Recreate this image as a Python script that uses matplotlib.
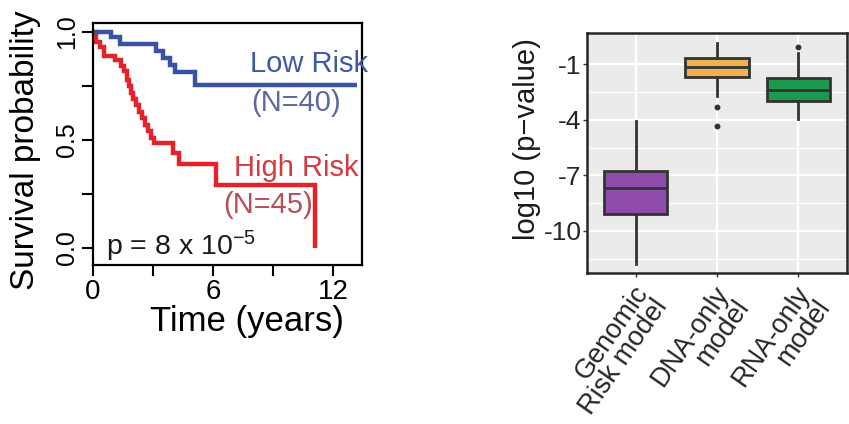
import matplotlib
matplotlib.use('Agg')
import matplotlib.pyplot as plt
import matplotlib.transforms as mtransforms

plt.rcParams['font.family'] = ['Liberation Sans', 'DejaVu Sans']
plt.rcParams['mathtext.default'] = 'regular'

# ---------------- data ----------------
low_t = [0, 0.92, 1.33, 3.17, 3.5, 3.83, 4.08, 5.08, 13.2]
low_s = [1.0, 0.978, 0.943, 0.912, 0.878, 0.847, 0.816, 0.755, 0.755]
high_t = [0, 0.15, 0.35, 0.55, 1.1, 1.4, 1.55, 1.7, 1.8, 1.9, 2.0, 2.15, 2.3,
          2.45, 2.6, 2.75, 2.9, 3.05, 4.0, 4.3, 6.15, 11.1, 11.1]
high_s = [1.0, 0.955, 0.93, 0.89, 0.87, 0.845, 0.82, 0.78, 0.75, 0.72, 0.69,
          0.66, 0.63, 0.60, 0.57, 0.54, 0.51, 0.485, 0.44, 0.39, 0.29, 0.29, 0.0]
x_ticks = [0, 3, 6, 9, 12]
x_ticklabels = ['0', '', '6', '', '12']
y_ticks = [0, 0.25, 0.5, 0.75, 1.0]
y_ticklabels = ['0.0', '', '0.5', '', '1.0']

models = ['Genomic\nRisk model', 'DNA-only\nmodel', 'RNA-only\nmodel']
whislo = [-11.8, -2.69, -3.96]
q1 = [-9.10, -1.66, -2.97]
med = [-7.66, -1.12, -2.38]
q3 = [-6.76, -0.66, -1.71]
whishi = [-4.05, 0.15, -0.39]
fliers = [[], [-3.28, -4.30], [-0.04]]
box_colors = ['#8E4BAC', '#F2B14F', '#1B9A4F']
p_ticks = [-1, -4, -7, -10]
p_minor = [-2.5, -5.5, -8.5, -11.5]

W, H = 849, 424
fig = plt.figure(figsize=(W / 100, H / 100), dpi=100)

# ---------------- left: KM curves ----------------
ax1 = fig.add_axes([93 / W, (H - 265) / H, (362 - 93) / W, (265 - 23) / H])
ax1.step(high_t, high_s, where='post', color='#E3222A', lw=3.2,
         solid_joinstyle='miter', solid_capstyle='butt')
ax1.step(low_t, low_s, where='post', color='#3953A4', lw=3.2,
         solid_joinstyle='miter', solid_capstyle='butt')
ax1.set_xlim(0, 13.45)
ax1.set_ylim(-0.079, 1.042)
ax1.set_xticks(x_ticks)
ax1.set_xticklabels(x_ticklabels, fontsize=20)
ax1.set_yticks(y_ticks)
ax1.set_yticklabels(y_ticklabels, fontsize=18, rotation=90, va='center')
ax1.tick_params(direction='out', length=8, width=1.5, pad=2)
for s in ax1.spines.values():
    s.set_linewidth(1.6)
ax1.set_xlabel('Time (years)', fontsize=25)
ax1.xaxis.set_label_coords((247 - 93) / 269, (265 - 305) / 242)
ax1.set_ylabel('Survival probability', fontsize=24)
ax1.yaxis.set_label_coords((41 - 93) / 269, (265 - 150) / 242)

ax1.text(13.75, 0.815, 'Low Risk', color='#3F58A8', fontsize=21,
         ha='right', va='baseline', clip_on=False)
ax1.text(10.15, 0.671, '(N=40)', color='#5A6A9E', fontsize=21,
         ha='center', va='center')
ax1.text(13.3, 0.335, 'High Risk', color='#D43A42', fontsize=21,
         ha='right', va='baseline', clip_on=False)
ax1.text(8.75, 0.199, '(N=45)', color='#B5505A', fontsize=21,
         ha='center', va='center')
ax1.text(0.65, -0.032, 'p = 8 x 10$^{-5}$', color='#1a1a1a', fontsize=20.5,
         ha='left', va='baseline')

# ---------------- right: boxplots ----------------
ax2 = fig.add_axes([587 / W, (H - 273) / H, (847 - 587) / W, (273 - 33) / H])
ax2.set_facecolor('#EBEBEB')
stats = []
for i in range(len(models)):
    stats.append(dict(med=med[i], q1=q1[i], q3=q3[i], whislo=whislo[i],
                      whishi=whishi[i], fliers=fliers[i], label=models[i]))
bp = ax2.bxp(stats, positions=[1, 2, 3], widths=0.78, patch_artist=True,
             showcaps=False,
             boxprops=dict(edgecolor='#333333', linewidth=2),
             medianprops=dict(color='#333333', linewidth=2),
             whiskerprops=dict(color='#333333', linewidth=2),
             flierprops=dict(marker='o', markersize=3.2,
                             markerfacecolor='#333333',
                             markeredgecolor='#333333'))
for patch, c in zip(bp['boxes'], box_colors):
    patch.set_facecolor(c)
ax2.set_xlim(0.4, 3.6)
ax2.set_ylim(-12.27, 0.70)
ax2.set_yticks(p_ticks)
ax2.set_yticklabels([str(v) for v in p_ticks], fontsize=19, color='#262626')
ax2.set_yticks(p_minor, minor=True)
ax2.set_xticks([1, 2, 3])
ax2.set_xticklabels(['', '', ''])
ax2.tick_params(axis='both', which='major', length=3, width=1,
                color='#333333', pad=1)
ax2.tick_params(axis='y', which='minor', length=0)
ax2.grid(True, which='major', color='white', linewidth=1.6)
ax2.grid(True, which='minor', axis='y', color='white', linewidth=0.8)
ax2.set_axisbelow(True)
for s in ax2.spines.values():
    s.set_linewidth(1.8)
    s.set_color('#262626')
ax2.set_ylabel('log10 (p\u2212value)', fontsize=21, color='#1a1a1a')
ax2.yaxis.set_label_coords((541 - 587) / 260, (273 - 139) / 240)

trans = mtransforms.blended_transform_factory(ax2.transData, ax2.transAxes)
for i, lab in enumerate(models):
    t = mtransforms.offset_copy(trans, fig=fig, x=17, y=-22, units='dots')
    ax2.text(i + 1, 0, lab, transform=t, rotation=55, rotation_mode='anchor',
             ha='right', va='center', multialignment='right', fontsize=19.5,
             color='#262626', linespacing=0.92)

fig.savefig('out.png', dpi=100)
